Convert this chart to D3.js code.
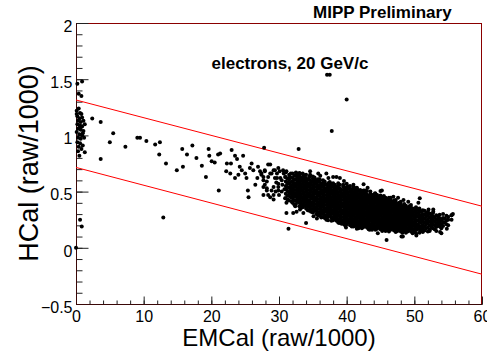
<!DOCTYPE html>
<html>
<head>
<meta charset="utf-8">
<script src="https://cdn.jsdelivr.net/npm/d3@7"></script>
<style>
  body { margin: 0; background: #fff; }
  text { font-family: "Liberation Sans", Arial, Helvetica, sans-serif; }
</style>
</head>
<body>
<svg id="chart" width="487" height="353"></svg>
<script>
// axis ranges and tick labels
var xDomain = [0, 60];
var yDomain = [-0.5, 2];
var xMajor = [0, 10, 20, 30, 40, 50, 60];
var yMajor = [-0.5, 0, 0.5, 1, 1.5, 2];

// red selection band: y at x=0 and at x=60
var upperCut = [1.315, 0.37];
var lowerCut = [0.715, -0.235];

// events stuck near EMCal = 0
var leftColumn = [
  [0.2,1.46],[0.9,1.48],[0.4,1.37],[0.8,1.35],[0.1,1.22],[0.6,1.2],[0.2,1.17],[0.5,1.15],
  [0.9,1.16],[0.3,1.13],[0.7,1.12],[1.1,1.13],[0.2,1.1],[0.5,1.09],[0.9,1.08],[1.3,1.1],
  [0.3,1.06],[0.7,1.05],[1.1,1.04],[0.1,1.03],[0.5,1.01],[0.9,1.0],[0.3,0.98],[0.7,0.97],
  [1.2,0.98],[0.2,0.94],[0.6,0.93],[0.4,0.9],[1.0,0.91],[0.8,0.88],[0.3,0.86],[1.3,0.85],
  [0.5,0.82],[0.1,1.19],[0.8,1.19],[0.4,1.24],[1.0,1.02],[0.6,1.07],
  [0.6,0.25],[0.85,0.19],[0.0,0.0]
];

// sparse tail between the column and the main cluster, plus outliers
var tail = [
  [2.4,1.15],[3.65,1.12],[3.65,0.79],[5.0,0.94],[5.5,1.02],[7.3,0.9],[9.06,0.98],[9.46,0.98],
  [10.4,0.95],[11.7,0.92],[12.4,0.94],[12.3,0.83],[13.3,0.75],[14.9,0.69],[15.7,0.88],[16.4,0.83],
  [15.8,0.72],[17.2,0.91],[17.8,0.80],[18.6,0.73],[19.2,0.63],[19.6,0.88],[19.7,0.82],[20.05,0.77],
  [20.5,0.76],[21.0,0.83],[21.3,0.84],[21.1,0.51],[23.0,0.87],[23.5,0.82],[24.7,0.82],[22.3,0.75],
  [22.9,0.75],[22.2,0.68],[22.8,0.66],[23.8,0.79],[24.2,0.72],[23.5,0.62],[24.0,0.65],[24.5,0.69],
  [25.0,0.66],[25.2,0.62],[25.4,0.51],[25.5,0.45],[25.7,0.71],[26.2,0.69],[25.95,0.75],[26.5,0.56],
  [26.9,0.72],[27.2,0.68],[27.4,0.65],[26.8,0.62],[27.7,0.60],[27.9,0.56],[28.2,0.53],[27.7,0.47],
  [28.4,0.47],[28.7,0.45],[29.2,0.43],[27.9,0.69],[28.7,0.66],[28.4,0.74],[29.4,0.69],[29.7,0.62],
  [29.2,0.54],[29.9,0.51],[29.9,0.57],[28.7,0.74],
  [12.9,0.27],[27.8,0.89],[32.9,0.88],[37.1,1.54],[37.5,1.54],[40.0,1.32],[37.8,1.04]
];

// loose points around the dense core
var fringe = [
  [27.4,.66],[27.9,.68],[27.7,.63],[28.4,.63],[28.2,.59],[28.9,.66],[29.2,.69],[29.4,.62],
  [29.9,.71],[29.7,.66],[30.1,.68],[30.6,.69],[31.1,.68],[30.9,.63],[30.4,.60],[27.7,.54],
  [28.2,.51],[28.9,.51],[29.2,.47],[29.9,.54],[30.4,.50],[30.9,.44],[31.1,.40],[31.9,.41],
  [32.4,.37],[32.6,.32],[33.1,.34],[33.6,.31],[32.9,.59],[33.1,.66],[33.6,.63],[31.4,.17],
  [30.2,.62],[30.5,.56],[30.8,.52],[29.6,.58],[30.0,.47],[31.3,.58],[31.6,.63],[31.5,.49],
  [30.7,.66],[29.5,.50],
  [34.6,.68],[35.8,.66],[37.0,.66],[37.3,.62],[38.5,.63],[40.0,.57],[41.0,.54],[42.5,.565],
  [45.0,.505],[50.8,.44],[50.6,.40],[41.0,.56],[41.5,.53],[44.2,.485],[46.9,.455],[48.4,.425],
  [52.1,.34],[52.8,.34],[53.8,.26],[52.8,.32],[45.2,.51],[38.0,.63],[39.0,.62],[32.6,.66],
  [34.6,.65],[55.5,.29],[55.7,.30],[55.0,.25],[54.8,.17],
  [45.9,.07],[48.1,.10],[53.8,.14],[52.3,.16],[50.3,.16],[43.4,.16],[41.5,.17],[34.0,.22],
  [35.6,.26],[31.1,.31],[32.1,.31],[37.0,.25],[38.9,.22],[41.0,.19],[48.3,.10],[50.3,.11],[54.0,.13],
  [36.1,.64],[39.6,.595],[43.1,.535],[47.6,.445],[49.1,.41],[35.1,.28],[39.9,.18],[44.6,.13]
];

// dense core of the electron cluster, one EMCal slice per row: [x, [HCal values]]
var coreCols = [
  [31.0, [.44,.48,.52,.55,.59,.63,.67]],
  [31.25, [.43,.465,.505,.54,.575,.615]],
  [31.5, [.42,.46,.50,.535,.57,.61,.65]],
  [31.75, [.45,.485,.515,.55,.585,.625,.66]],
  [32.0, [.40,.44,.47,.50,.53,.56,.59,.62,.66]],
  [32.25, [.385,.42,.455,.485,.515,.545,.575,.605,.64]],
  [32.5, [.39,.42,.455,.485,.515,.545,.575,.61,.64,.67]],
  [32.75, [.41,.44,.47,.50,.53,.56,.59,.625,.655]],
  [33.0, [.37,.40,.43,.46,.49,.52,.55,.58,.61,.64,.665]],
  [33.25, [.355,.385,.415,.445,.475,.505,.535,.565,.595,.625]],
  [33.5, [.36,.39,.42,.45,.48,.51,.54,.57,.60,.63,.66]],
  [33.75, [.375,.405,.435,.465,.495,.525,.555,.585,.615,.645]],
  [34.0, [.35,.38,.41,.44,.47,.50,.53,.56,.59,.62,.65]],
  [34.25, [.335,.365,.395,.425,.455,.485,.515,.545,.575,.605]],
  [34.5, [.33,.36,.39,.42,.455,.485,.515,.545,.575,.605,.635]],
  [34.75, [.32,.345,.375,.405,.44,.47,.50,.53,.56,.59]],
  [35.0, [.315,.345,.375,.405,.435,.465,.495,.525,.555,.585,.615,.635]],
  [35.25, [.33,.36,.39,.42,.45,.48,.51,.54,.57,.60,.625]],
  [35.5, [.30,.33,.36,.39,.42,.45,.48,.51,.54,.57,.60]],
  [35.75, [.29,.315,.345,.375,.405,.435,.465,.495,.525,.555,.585,.61]],
  [36.0, [.285,.315,.345,.375,.405,.435,.465,.495,.525,.555,.585,.61]],
  [36.25, [.27,.30,.33,.36,.39,.42,.45,.48,.51,.54,.57]],
  [36.5, [.275,.305,.335,.365,.395,.425,.455,.485,.515,.545,.575,.60]],
  [36.75, [.265,.29,.32,.35,.38,.41,.44,.47,.50,.53,.56,.59]],
  [37.0, [.26,.29,.32,.35,.38,.41,.44,.47,.50,.53,.56]],
  [37.25, [.245,.275,.305,.335,.365,.395,.425,.455,.485,.515,.545,.575]],
  [37.5, [.285,.315,.345,.375,.405,.435,.465,.495,.525,.555,.585]],
  [37.75, [.24,.27,.30,.33,.36,.39,.42,.45,.48,.51,.54,.57]],
  [38.0, [.245,.275,.305,.335,.365,.395,.425,.455,.485,.515,.545,.575]],
  [38.25, [.26,.29,.32,.35,.38,.41,.44,.47,.50,.53,.56]],
  [38.5, [.24,.27,.30,.33,.36,.39,.42,.45,.48,.51,.54]],
  [38.75, [.225,.255,.285,.315,.345,.375,.405,.435,.465,.495,.525,.555,.575]],
  [39.0, [.23,.26,.29,.32,.35,.38,.41,.44,.47,.50,.53,.56]],
  [39.25, [.215,.245,.275,.305,.335,.365,.395,.425,.455,.485,.515]],
  [39.5, [.215,.245,.275,.305,.335,.365,.395,.425,.455,.485,.515,.545,.56]],
  [39.75, [.20,.23,.26,.29,.32,.35,.38,.41,.44,.47,.50,.53]],
  [40.0, [.21,.24,.27,.30,.33,.36,.39,.42,.45,.48,.51,.54]],
  [40.25, [.225,.255,.285,.315,.345,.375,.405,.435,.465,.495,.525,.545]],
  [40.5, [.20,.23,.26,.29,.32,.35,.38,.41,.44,.47,.50,.53,.55]],
  [40.75, [.19,.215,.245,.275,.305,.335,.365,.395,.425,.455,.485,.515]],
  [41.0, [.20,.225,.255,.285,.315,.345,.375,.405,.435,.465,.495,.525]],
  [41.25, [.21,.24,.27,.30,.33,.36,.39,.42,.45,.48,.51,.53]],
  [41.5, [.19,.22,.25,.28,.31,.34,.37,.40,.43,.46,.49,.52,.535]],
  [41.75, [.175,.205,.235,.265,.295,.325,.355,.385,.415,.445,.475,.505]],
  [42.0, [.19,.215,.245,.275,.305,.335,.365,.395,.425,.455,.485,.515]],
  [42.25, [.175,.20,.23,.26,.29,.32,.35,.38,.41,.44,.47,.50]],
  [42.5, [.185,.21,.24,.27,.30,.33,.36,.39,.42,.45,.48,.51]],
  [42.75, [.195,.225,.255,.285,.315,.345,.375,.405,.435,.465,.495,.51]],
  [43.0, [.18,.205,.235,.265,.295,.325,.355,.385,.415,.445,.475,.505]],
  [43.25, [.165,.19,.22,.25,.28,.31,.34,.37,.40,.43,.46]],
  [43.5, [.18,.21,.24,.27,.30,.33,.36,.39,.42,.45,.48,.50]],
  [43.75, [.16,.19,.22,.255,.285,.315,.345,.375,.405,.435,.465]],
  [44.0, [.175,.205,.235,.265,.295,.325,.355,.385,.415,.445,.475]],
  [44.25, [.16,.19,.22,.25,.28,.31,.34,.37,.40,.43,.46,.48]],
  [44.5, [.17,.20,.23,.26,.29,.32,.35,.38,.41,.44,.47]],
  [44.75, [.185,.215,.245,.275,.305,.335,.365,.395,.425,.455]],
  [45.0, [.165,.195,.225,.255,.285,.315,.345,.375,.405,.435,.465]],
  [45.25, [.15,.18,.21,.24,.27,.30,.33,.36,.39,.42,.45]],
  [45.5, [.165,.19,.22,.25,.28,.31,.34,.37,.40,.43,.46]],
  [45.75, [.15,.175,.205,.235,.265,.295,.325,.355,.385,.415,.445]],
  [46.0, [.16,.19,.22,.25,.28,.31,.34,.37,.40,.43]],
  [46.25, [.145,.175,.205,.235,.265,.295,.325,.355,.385,.415,.445]],
  [46.5, [.16,.185,.215,.245,.275,.305,.335,.365,.395,.425,.445]],
  [46.75, [.17,.20,.23,.26,.29,.32,.35,.38,.41]],
  [47.0, [.155,.18,.21,.24,.27,.30,.33,.36,.39,.42]],
  [47.25, [.14,.165,.195,.225,.255,.285,.315,.345,.375,.405,.425]],
  [47.5, [.15,.18,.21,.24,.27,.30,.33,.36,.39]],
  [47.75, [.165,.195,.225,.255,.285,.315,.345,.375,.40]],
  [48.0, [.145,.175,.205,.235,.265,.295,.325,.355,.385,.41]],
  [48.25, [.135,.16,.19,.22,.25,.28,.31,.34,.37]],
  [48.5, [.15,.18,.21,.24,.27,.30,.33,.36,.39]],
  [48.75, [.135,.165,.195,.225,.255,.285,.315,.345,.375]],
  [49.0, [.145,.175,.205,.235,.265,.295,.325,.355]],
  [49.25, [.16,.19,.22,.25,.28,.31,.34,.37]],
  [49.5, [.145,.18,.21,.24,.27,.30,.33,.36,.38]],
  [49.75, [.13,.16,.195,.225,.255,.285,.315,.345]],
  [50.0, [.14,.17,.20,.23,.26,.29,.32,.35]],
  [50.25, [.13,.16,.19,.215,.245,.275,.305,.335,.36]],
  [50.5, [.18,.21,.245,.28,.31,.34]],
  [50.75, [.135,.165,.195,.23,.265,.295,.325,.35]],
  [51.0, [.15,.185,.22,.25,.285,.32]],
  [51.25, [.14,.17,.20,.235,.27,.30,.335]],
  [51.5, [.155,.19,.225,.26,.295,.33]],
  [51.75, [.175,.21,.24,.275,.31]],
  [52.0, [.145,.18,.22,.25,.29,.32]],
  [52.25, [.15,.20,.235,.27,.305]],
  [52.5, [.19,.225,.26,.295]],
  [52.75, [.175,.21,.245,.28,.31]],
  [53.0, [.165,.20,.235,.27]],
  [53.25, [.15,.185,.22,.255,.29]],
  [53.5, [.21,.245,.28]],
  [53.75, [.19,.225,.26,.295]],
  [54.0, [.175,.21,.245]],
  [54.25, [.195,.23,.265,.30]],
  [54.5, [.225,.26]],
  [54.75, [.21,.245,.285]],
  [55.0, [.20,.275]],
  [55.5, [.25,.29]]
];

function drawChart() {
  var svg = d3.select("#chart");
  var left = 76, right = 482, frameTop = 23, frameBottom = 304;

  var x = d3.scaleLinear().domain(xDomain).range([left, right]);
  var y = d3.scaleLinear().domain(yDomain).range([frameBottom, frameTop]);

  // flatten all the events
  var points = leftColumn.concat(tail, fringe);
  coreCols.forEach(function(col) {
    col[1].forEach(function(v) { points.push([col[0], v]); });
  });

  // frame
  svg.append("rect")
    .attr("x", left + 0.5).attr("y", frameTop + 0.5)
    .attr("width", right - left - 1).attr("height", frameBottom - frameTop)
    .attr("fill", "none")
    .attr("stroke", "#8a0000")
    .attr("stroke-width", 1);

  // axes, ticks pointing inward
  function styleAxis(g) {
    g.select(".domain").remove();
    g.selectAll(".tick line").attr("stroke", "#222");
    g.selectAll(".tick text").attr("fill", "#000").attr("font-size", 16)
      .attr("font-family", "Liberation Sans, Arial, Helvetica, sans-serif");
  }

  svg.append("g")
    .attr("transform", "translate(" + (left + 0.5) + ",0)")
    .call(d3.axisLeft(y).tickValues(d3.range(-0.5, 2.001, 0.1)).tickSize(-6).tickFormat(""))
    .call(styleAxis);
  var yAxis = svg.append("g")
    .attr("transform", "translate(" + (left + 0.5) + ",0)")
    .call(d3.axisLeft(y).tickValues(yMajor).tickSize(-12).tickPadding(4)
      .tickFormat(function(d) { return d3.format("")(d); }))
    .call(styleAxis);
  yAxis.selectAll(".tick text").attr("dy", "0.52em");

  svg.append("g")
    .attr("transform", "translate(0," + (frameBottom + 0.5) + ")")
    .call(d3.axisBottom(x).tickValues(d3.range(0, 60.001, 2)).tickSize(-4).tickFormat(""))
    .call(styleAxis);
  svg.append("g")
    .attr("transform", "translate(0," + (frameBottom + 0.5) + ")")
    .call(d3.axisBottom(x).tickValues(xMajor).tickSize(-8).tickPadding(6))
    .call(styleAxis);

  svg.append("line")
    .attr("x1", left + 0.5).attr("x2", left + 0.5)
    .attr("y1", frameTop).attr("y2", frameBottom + 1)
    .attr("stroke", "#3a0808");
  svg.append("line")
    .attr("x1", left).attr("x2", right)
    .attr("y1", frameBottom + 0.5).attr("y2", frameBottom + 0.5)
    .attr("stroke", "#3a0808");

  // selection lines
  [upperCut, lowerCut].forEach(function(c) {
    svg.append("line")
      .attr("x1", x(xDomain[0])).attr("y1", y(c[0]))
      .attr("x2", x(xDomain[1])).attr("y2", y(c[1]))
      .attr("stroke", "#ff0000")
      .attr("stroke-width", 1);
  });

  // events
  svg.append("g")
    .selectAll("circle")
    .data(points)
    .enter().append("circle")
      .attr("cx", function(d) { return x(d[0]); })
      .attr("cy", function(d) { return y(d[1]); })
      .attr("r", 2)
      .attr("fill", "#000");

  // labels
  svg.append("text")
    .attr("x", 313).attr("y", 18)
    .attr("font-size", 17).attr("font-weight", "bold")
    .text("MIPP Preliminary");

  svg.append("text")
    .attr("x", 211.5).attr("y", 68.5)
    .attr("font-size", 17).attr("font-weight", "bold")
    .text("electrons, 20 GeV/c");

  svg.append("text")
    .attr("x", (left + right) / 2).attr("y", 346)
    .attr("text-anchor", "middle")
    .attr("font-size", 24)
    .text("EMCal (raw/1000)");

  svg.append("text")
    .attr("transform", "translate(37.5," + (frameTop + frameBottom) / 2 + ") rotate(-90)")
    .attr("text-anchor", "middle")
    .attr("font-size", 27)
    .text("HCal (raw/1000)");
}
drawChart();
</script>
</body>
</html>
